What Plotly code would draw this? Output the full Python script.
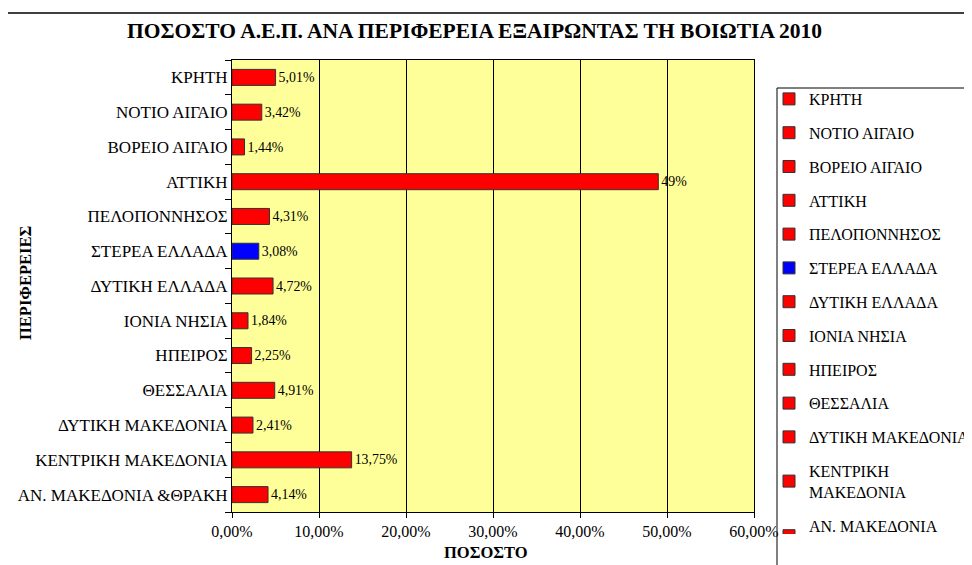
import plotly.graph_objects as go

# Data (bottom to top as in the chart)
regions = ["ΑΝ. ΜΑΚΕΔΟΝΙΑ &ΘΡΑΚΗ", "ΚΕΝΤΡΙΚΗ ΜΑΚΕΔΟΝΙΑ", "ΔΥΤΙΚΗ ΜΑΚΕΔΟΝΙΑ", "ΘΕΣΣΑΛΙΑ",
           "ΗΠΕΙΡΟΣ", "ΙΟΝΙΑ ΝΗΣΙΑ", "ΔΥΤΙΚΗ ΕΛΛΑΔΑ", "ΣΤΕΡΕΑ ΕΛΛΑΔΑ", "ΠΕΛΟΠΟΝΝΗΣΟΣ",
           "ΑΤΤΙΚΗ", "ΒΟΡΕΙΟ ΑΙΓΑΙΟ", "ΝΟΤΙΟ ΑΙΓΑΙΟ", "ΚΡΗΤΗ"]
legend_names = ["ΑΝ. ΜΑΚΕΔΟΝΙΑ<br>&ΘΡΑΚΗ", "ΚΕΝΤΡΙΚΗ<br>ΜΑΚΕΔΟΝΙΑ", "ΔΥΤΙΚΗ ΜΑΚΕΔΟΝΙΑ", "ΘΕΣΣΑΛΙΑ",
                "ΗΠΕΙΡΟΣ", "ΙΟΝΙΑ ΝΗΣΙΑ", "ΔΥΤΙΚΗ ΕΛΛΑΔΑ", "ΣΤΕΡΕΑ ΕΛΛΑΔΑ", "ΠΕΛΟΠΟΝΝΗΣΟΣ",
                "ΑΤΤΙΚΗ", "ΒΟΡΕΙΟ ΑΙΓΑΙΟ", "ΝΟΤΙΟ ΑΙΓΑΙΟ", "ΚΡΗΤΗ"]
values = [4.14, 13.75, 2.41, 4.91, 2.25, 1.84, 4.72, 3.08, 4.31, 49.0, 1.44, 3.42, 5.01]
value_labels = ["4,14%", "13,75%", "2,41%", "4,91%", "2,25%", "1,84%", "4,72%", "3,08%",
                "4,31%", "49%", "1,44%", "3,42%", "5,01%"]
highlight = "ΣΤΕΡΕΑ ΕΛΛΑΔΑ"
x_tickvals = [0, 10, 20, 30, 40, 50, 60]
x_ticktext = ["0,00%", "10,00%", "20,00%", "30,00%", "40,00%", "50,00%", "60,00%"]

FONT = "Liberation Serif"
FS = 16.5
OFF = 8  # page body margin
FW, FH = 972 - OFF, 565 - OFF

fig = go.Figure()
# legend lists top-to-bottom: add traces from top category down
for r, ln, v, lab in reversed(list(zip(regions, legend_names, values, value_labels))):
    color = "#0000FF" if r == highlight else "#FF0000"
    fig.add_trace(go.Bar(
        x=[v], y=[r], orientation="h", name=ln, legendgroup=r,
        marker=dict(color=color, line=dict(color="#333333", width=1)),
        width=0.46, text=[lab], textposition="outside",
        textfont=dict(family=FONT, size=FS, color="black"),
        cliponaxis=False,
    ))

# plot area in screen pixels
SX0, SX1, SY0, SY1 = 232, 754, 60, 512
L, T = SX0 - OFF, SY0 - OFF
R = FW - (SX1 - OFF)
B = FH - (SY1 - OFF)
W, H = SX1 - SX0, SY1 - SY0

def px(x):
    return (x - SX0) / W

def py(y):
    return (SY1 - y) / H

fig.update_layout(
    width=FW, height=FH,
    margin=dict(l=L, r=R, t=T, b=B, autoexpand=False),
    paper_bgcolor="white", plot_bgcolor="#FFFF99",
    barmode="overlay",
    font=dict(family=FONT, size=FS, color="black"),
    showlegend=True,
    legend=dict(x=px(769), y=py(82),
                xanchor="left", yanchor="top",
                traceorder="grouped", tracegroupgap=10,
                font=dict(family=FONT, size=16, color="black"),
                bgcolor="rgba(0,0,0,0)", itemwidth=30),
    xaxis=dict(range=[0, 60], tickvals=x_tickvals, ticktext=x_ticktext,
               showgrid=True, gridcolor="black", gridwidth=1,
               showline=True, linecolor="black", mirror=True,
               ticks="outside", ticklen=5, tickcolor="black",
               tickfont=dict(family=FONT, size=16), zeroline=False),
    yaxis=dict(type="category", categoryorder="array", categoryarray=regions,
               showline=True, linecolor="black", mirror=True,
               ticks="outside", ticklen=6, tickcolor="black", tickson="boundaries",
               tickfont=dict(family=FONT, size=17), showgrid=False),
    annotations=[
        dict(text="<b>ΠΟΣΟΣΤΟ Α.Ε.Π. ΑΝΑ ΠΕΡΙΦΕΡΕΙΑ ΕΞΑΙΡΩΝΤΑΣ ΤΗ ΒΟΙΩΤΙΑ 2010</b>",
             x=px(474), y=py(31), xref="paper", yref="paper", showarrow=False,
             xanchor="center", yanchor="middle", font=dict(family=FONT, size=21.5)),
        dict(text="<b>ΠΟΣΟΣΤΟ</b>", x=px(486), y=py(552), xref="paper", yref="paper",
             showarrow=False, xanchor="center", yanchor="middle",
             font=dict(family=FONT, size=16.5)),
        dict(text="<b>ΠΕΡΙΦΕΡΕΙΕΣ</b>", x=px(25), y=py(283), xref="paper", yref="paper",
             showarrow=False, xanchor="center", yanchor="middle", textangle=-90,
             font=dict(family=FONT, size=16.5)),
    ],
    shapes=[
        dict(type="rect", xref="paper", yref="paper", x0=px(5), x1=px(971),
             y0=py(600), y1=py(13), line=dict(color="black", width=1.5), layer="below"),
        dict(type="rect", xref="paper", yref="paper", x0=px(777), x1=px(990),
             y0=py(600), y1=py(88), line=dict(color="black", width=1), layer="below"),
    ],
)

fig.write_html("out.html")
